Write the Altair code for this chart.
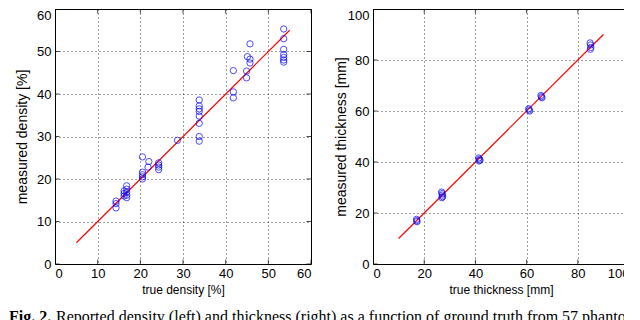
import altair as alt
import pandas as pd

# ---- data ----
left_true = [14.3, 14.3, 14.3, 16.2, 16.2, 16.2, 16.8, 16.8, 16.8, 16.8, 16.8,
             20.5, 20.5, 20.5, 20.5, 20.5, 22.0, 21.8, 24.3, 24.3, 24.3, 24.3,
             28.7, 33.8, 33.8, 33.8, 33.8, 33.8, 33.8, 33.8, 33.8,
             41.8, 41.8, 41.8, 45.7, 45.1, 45.7, 45.7, 44.9, 44.9,
             53.6, 53.6, 53.6, 53.6, 53.6, 53.6, 53.6]
left_meas = [14.8, 14.2, 13.2, 17.2, 16.6, 16.0, 18.4, 17.6, 16.9, 16.2, 15.6,
             25.2, 21.6, 21.0, 20.5, 20.0, 24.1, 22.8, 23.8, 23.3, 22.8, 22.2,
             29.1, 38.6, 37.2, 36.5, 35.9, 34.8, 33.1, 30.0, 28.9,
             45.5, 40.5, 39.1, 51.8, 48.8, 48.2, 47.3, 45.4, 43.8,
             55.3, 53.0, 50.5, 49.3, 48.6, 48.0, 47.5]

right_true = [17.0, 17.1, 17.2, 26.8, 27.0, 27.1, 27.2, 26.9,
              41.3, 41.6, 41.8, 41.4, 60.8, 61.0, 61.2,
              65.6, 65.8, 66.0, 84.8, 85.0, 85.1, 84.9]
right_meas = [17.5, 17.0, 16.6, 28.2, 27.6, 27.0, 26.4, 26.0,
              41.6, 41.1, 40.7, 40.4, 60.9, 60.4, 60.0,
              66.1, 65.6, 65.2, 86.7, 85.9, 84.9, 84.2]

left_fit_x = [5, 55]
left_fit_y = [5, 55]
right_fit_x = [10, 90]
right_fit_y = [10, 90]

left_ticks = [0, 10, 20, 30, 40, 50, 60]
right_ticks = [0, 20, 40, 60, 80, 100]

left_xtitle = "true density [%]"
left_ytitle = "measured density [%]"
right_xtitle = "true thickness [mm]"
right_ytitle = "measured thickness [mm]"
caption_bold = "Fig. 2."
caption_rest = ("Reported density (left) and thickness (right) as a function "
                "of ground truth from 57 phantom images.")

FONT = "Liberation Sans"


def panel(tx, my, fx, fy, ticks, xtitle, ytitle, yext, ytpad, extra=()):
    lo, hi = ticks[0], ticks[-1]
    xs = alt.Scale(domain=[lo, hi], nice=False, zero=False)
    ys = alt.Scale(domain=[lo, hi], nice=False, zero=False)
    common = dict(values=ticks, grid=True, gridColor="#000000", gridDash=[1, 3],
                  gridOpacity=0.75, gridWidth=1, ticks=False, domain=False,
                  labelFont=FONT, labelFontSize=13, labelColor="black",
                  titleFont=FONT, titleColor="black", titleFontWeight="normal")
    xaxis = alt.Axis(labelPadding=3, titleFontSize=12, titlePadding=4, **common)
    yaxis = alt.Axis(labelPadding=4, titleFontSize=14, titlePadding=ytpad,
                     minExtent=yext, maxExtent=yext,
                     labelBaseline={"condition": {"test": f"datum.value == {hi}", "value": "top"},
                                    "value": "middle"},
                     **common)
    X = alt.X("x:Q", scale=xs, axis=xaxis, title=xtitle)
    Y = alt.Y("y:Q", scale=ys, axis=yaxis, title=ytitle)

    pts = pd.DataFrame({"x": tx, "y": my})
    fit = pd.DataFrame({"x": fx, "y": fy})
    tb = pd.DataFrame({"x": ticks, "y": [lo] * len(ticks)})
    tt = pd.DataFrame({"x": ticks, "y": [hi] * len(ticks)})
    tl = pd.DataFrame({"x": [lo] * len(ticks), "y": ticks})
    tr = pd.DataFrame({"x": [hi] * len(ticks), "y": ticks})

    points = alt.Chart(pts).mark_point(shape="circle", filled=False, size=40,
                                       color="#0000ff", strokeWidth=1).encode(x=X, y=Y)
    line = alt.Chart(fit).mark_line(color="#ff0000", strokeWidth=1.2).encode(x=X, y=Y)
    tks = []
    for d, o in ((tb, "vertical"), (tt, "vertical"), (tl, "horizontal"), (tr, "horizontal")):
        tks.append(alt.Chart(d).mark_tick(orient=o, size=9, thickness=1,
                                          color="black", clip=True).encode(x=X, y=Y))
    return alt.layer(*tks, line, points, *extra).properties(width=256, height=255)


# caption below both panels (drawn from the left panel, cut by the page edge)
cap_df = pd.DataFrame({"b": [caption_bold], "r": [caption_rest]})
cap_b = alt.Chart(cap_df).mark_text(align="left", baseline="top", font="Liberation Serif",
                                    fontSize=16, fontWeight="bold", color="black").encode(
    x=alt.value(-46), y=alt.value(300), text="b:N")
cap_r = alt.Chart(cap_df).mark_text(align="left", baseline="top", font="Liberation Serif",
                                    fontSize=16, fontWeight="normal", color="black",
                                    limit=577, ellipsis=" ").encode(
    x=alt.value(1), y=alt.value(300), text="r:N")

left = panel(left_true, left_meas, left_fit_x, left_fit_y, left_ticks,
             left_xtitle, left_ytitle, 19, 7, extra=(cap_b, cap_r))
right = panel(right_true, right_meas, right_fit_x, right_fit_y, right_ticks,
              right_xtitle, right_ytitle, 24, 1)

chart = alt.hconcat(left, right, spacing=62, bounds="flush").properties(
    padding={"left": 0, "top": 0, "right": -7, "bottom": 0},
).configure_view(stroke="black", strokeWidth=1)

chart.save("out.html", embed_options={"renderer": "svg", "actions": False})
